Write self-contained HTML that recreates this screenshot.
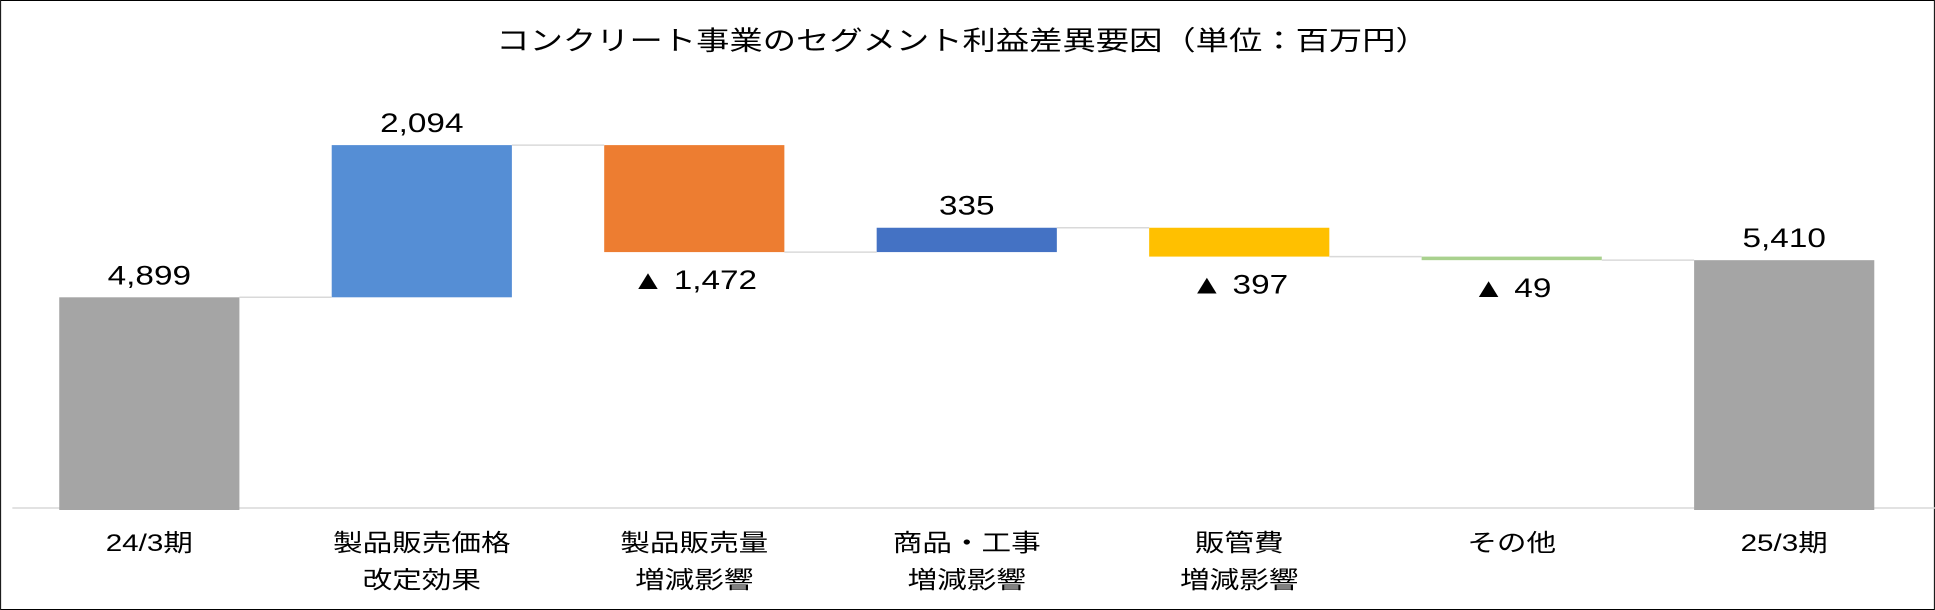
<!DOCTYPE html>
<html><head><meta charset="utf-8">
<style>
html,body{margin:0;padding:0;background:#fff;}
svg{display:block;}
text{font-family:"Liberation Sans","Noto Sans CJK JP",sans-serif;fill:#000;}
</style></head>
<body>
<svg id="chart" width="1935" height="610" viewBox="0 0 1568 610" preserveAspectRatio="none" xmlns="http://www.w3.org/2000/svg">
<rect x="0.5" y="0.5" width="1567" height="609" fill="#fff" stroke="#000" stroke-width="1" vector-effect="non-scaling-stroke"/>
<text x="780" y="50" font-size="27" text-anchor="middle">コンクリート事業のセグメント利益差異要因（単位：百万円）</text>
<line x1="10" x2="1568" y1="508" y2="508" stroke="#d9d9d9" stroke-width="1.5"/>
<g id="marks"></g>
</svg>
<script>
const categories = [["24/3期"],["製品販売価格","改定効果"],["製品販売量","増減影響"],["商品・工事","増減影響"],["販管費","増減影響"],["その他"],["25/3期"]];
const deltas = [4899, 2094, -1472, 335, -397, -49, 5410];
const kinds = ["total","delta","delta","delta","delta","delta","total"];
const valueLabels = ["4,899","2,094","▲ 1,472","335","▲ 397","▲ 49","5,410"];
const colors = ["#a5a5a5","#558ed5","#ed7d31","#4472c4","#ffc000","#a9d18e","#a5a5a5"];
const axisMin = 2000;

const NS = "http://www.w3.org/2000/svg";
const g = document.getElementById("marks");
const x0 = 121, pitch = 220.8, bw = 146;
function xc(i){ return x0 + i*pitch; }
function y(v){ return 508 - (v - axisMin) * 0.07268; }
function mk(tag, attrs){ const e = document.createElementNS(NS, tag); for (const k in attrs) e.setAttribute(k, attrs[k]); g.appendChild(e); return e; }

let run = 0;
const levels = [];
deltas.forEach((d, i) => {
  let top, bot, end;
  if (kinds[i] === "total") { end = d; top = y(d); bot = 510; }
  else { const s = run; end = run + d; top = y(Math.max(s, end)); bot = y(Math.min(s, end)); }
  let h = Math.max(bot - top, 2);
  const r = mk("rect", {x: xc(i) - bw/2, y: top, width: bw, height: h, fill: colors[i]});
  
  
  // label
  let ly;
  if (kinds[i] === "total" || d > 0) ly = top - 13;
  else ly = bot + 37;
  const t = mk("text", {x: xc(i), y: ly, "font-size": 27, "text-anchor": "middle"});
  t.textContent = valueLabels[i];
  
  
  // category
  categories[i].forEach((line, j) => {
    const c = mk("text", {x: xc(i), y: 551 + j*37, "font-size": 24, "text-anchor": "middle"});
    c.textContent = line;
    
    
  });
  run = end;
  levels.push(end);
});
for (let i = 0; i < deltas.length - 1; i++) {
  const l = mk("line", {x1: xc(i) + bw/2, x2: xc(i+1) - bw/2, y1: y(levels[i]), y2: y(levels[i]), stroke: "#d9d9d9", "stroke-width": 1.5});
  
  
}
</script>
</body></html>
